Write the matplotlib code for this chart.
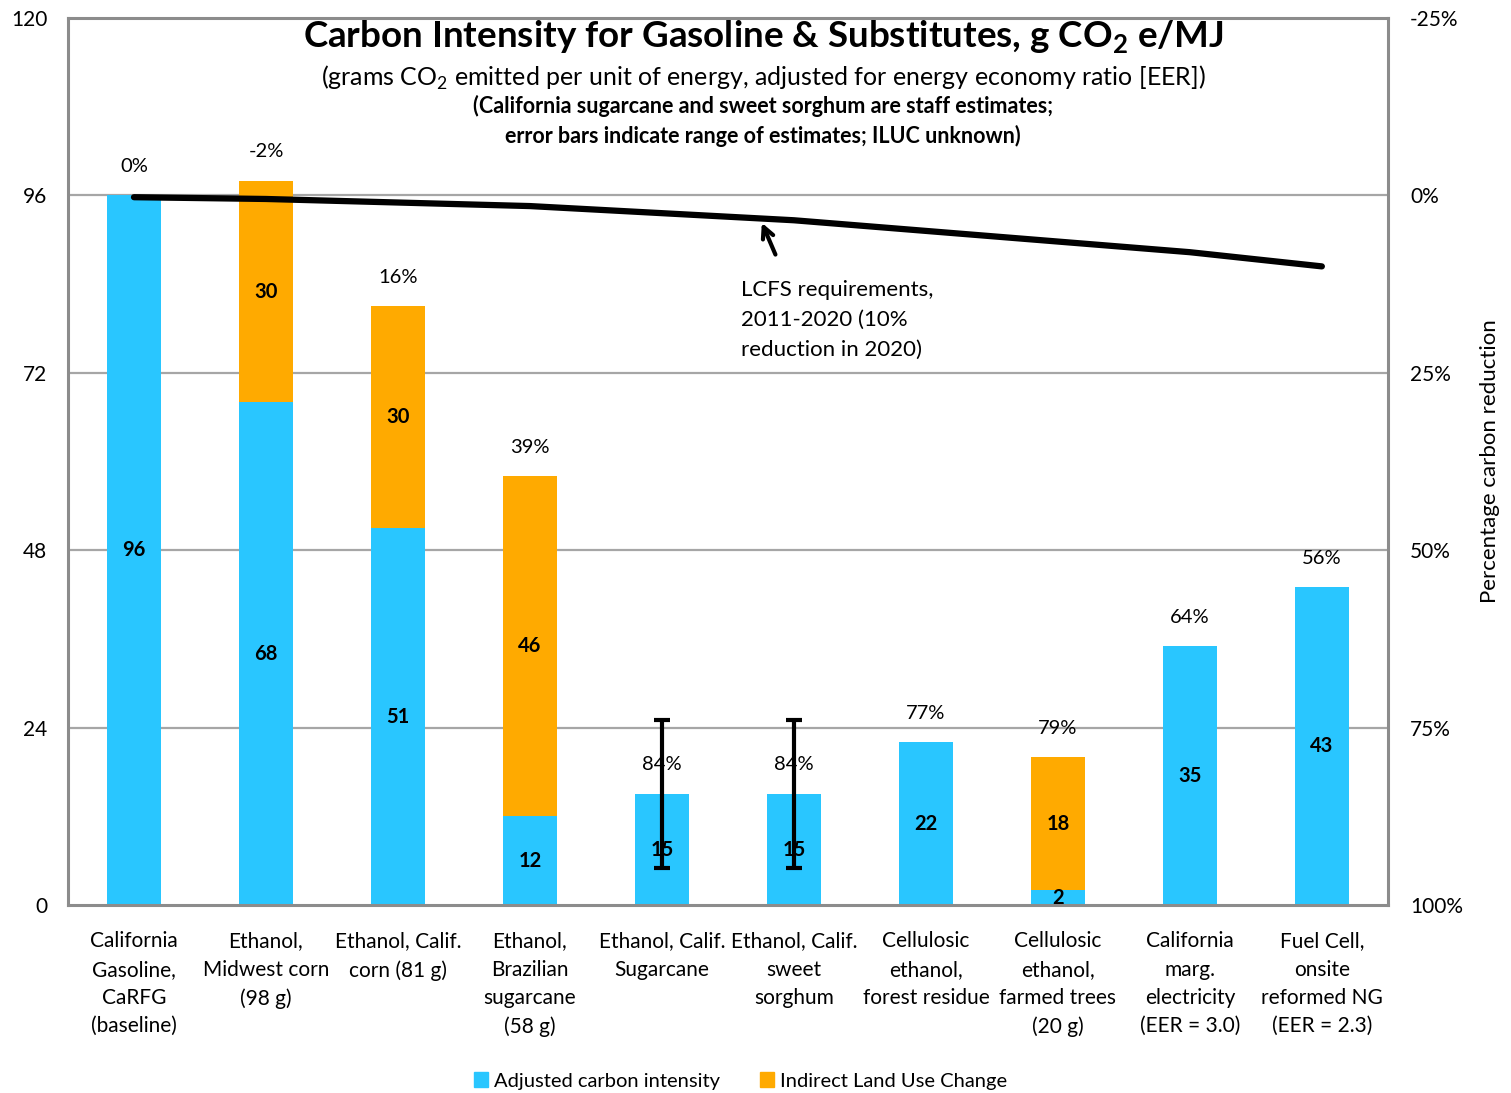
import matplotlib
matplotlib.use("Agg")
import matplotlib.pyplot as plt
from matplotlib.patches import Patch
import numpy as np

plt.rcParams['font.family'] = ['Lato', 'DejaVu Sans']
plt.rcParams['mathtext.fontset'] = 'custom'
plt.rcParams['mathtext.rm'] = 'Lato'
plt.rcParams['mathtext.bf'] = 'Lato:bold'

categories = [
    "California\nGasoline,\nCaRFG\n(baseline)",
    "Ethanol,\nMidwest corn\n(98 g)",
    "Ethanol, Calif.\ncorn (81 g)",
    "Ethanol,\nBrazilian\nsugarcane\n(58 g)",
    "Ethanol, Calif.\nSugarcane",
    "Ethanol, Calif.\nsweet\nsorghum",
    "Cellulosic\nethanol,\nforest residue",
    "Cellulosic\nethanol,\nfarmed trees\n(20 g)",
    "California\nmarg.\nelectricity\n(EER = 3.0)",
    "Fuel Cell,\nonsite\nreformed NG\n(EER = 2.3)",
]
adjusted_ci = [96, 68, 51, 12, 15, 15, 22, 2, 35, 43]
iluc = [0, 30, 30, 46, 0, 0, 0, 18, 0, 0]
pct_labels = ["0%", "-2%", "16%", "39%", "84%", "84%", "77%", "79%", "64%", "56%"]
err_idx = [4, 5]
err_low = [5, 5]
err_high = [25, 25]
# LCFS requirement, 2011-2020 (g CO2e/MJ)
lcfs_ci = [95.76, 95.52, 95.04, 94.56, 93.6, 92.64, 91.2, 89.76, 88.32, 86.4]
left_ticks = [0, 24, 48, 72, 96, 120]
right_ticklabels = ["100%", "75%", "50%", "25%", "0%", "-25%"]

BLUE = '#29C6FF'
ORANGE = '#FFAA00'
GRID = '#A6A6A6'

fig = plt.figure(figsize=(15.11, 10.93), dpi=100)
ax = fig.add_axes([0.045, 0.172, 0.8735, 0.8115])
x = np.arange(len(categories))
w = 0.41

ax.bar(x, adjusted_ci, width=w, color=BLUE, zorder=2)
ax.bar(x, iluc, width=w, bottom=adjusted_ci, color=ORANGE, zorder=2)

ax.set_xlim(-0.5, len(categories) - 0.5)
ax.set_ylim(0, 120)
ax.set_yticks(left_ticks)
ax.set_yticklabels([str(t) for t in left_ticks], fontsize=15)
ax.tick_params(axis='y', length=0, pad=15)
ax.set_xticks(x)
ax.set_xticklabels(categories, fontsize=15, linespacing=1.52)
ax.tick_params(axis='x', length=0, pad=19)
for t in left_ticks[1:-1]:
    ax.axhline(t, color=GRID, lw=1.6, zorder=1)
for s in ax.spines.values():
    s.set_color('#8C8C8C')
    s.set_linewidth(2.2)

# value labels
for i in range(len(categories)):
    if adjusted_ci[i] > 0:
        ax.text(x[i], adjusted_ci[i] / 2, str(adjusted_ci[i]), ha='center', va='center',
                fontsize=14.5, fontweight='bold', zorder=4)
    if iluc[i] > 0:
        ax.text(x[i], adjusted_ci[i] + iluc[i] / 2, str(iluc[i]), ha='center', va='center',
                fontsize=14.5, fontweight='bold', zorder=4)
    top = adjusted_ci[i] + iluc[i]
    ax.annotate(pct_labels[i], (x[i], top), xytext=(0, 21), textcoords='offset points',
                ha='center', va='center', fontsize=14.5, zorder=4)

# error bars
for k, i in enumerate(err_idx):
    mid = adjusted_ci[i]
    ax.errorbar(x[i], mid, yerr=[[mid - err_low[k]], [err_high[k] - mid]], fmt='none',
                ecolor='black', elinewidth=3, capsize=5.5, capthick=3, zorder=5)

# LCFS line
ax.plot(x, lcfs_ci, color='black', lw=4.5, solid_capstyle='round', zorder=6)
ax.text(4.6, 79.2, "LCFS requirements,\n2011-2020 (10%\nreduction in 2020)",
        ha='left', va='center', fontsize=16, linespacing=1.62)
ax.annotate("", xy=(4.757, 92.3), xytext=(4.86, 88.0),
            arrowprops=dict(arrowstyle='->', color='black', lw=3, shrinkA=0, shrinkB=0,
                            mutation_scale=20))

# right axis
ax2 = ax.twinx()
ax2.set_ylim(0, 120)
ax2.set_yticks(left_ticks)
ax2.set_yticklabels(right_ticklabels, fontsize=15)
ax2.tick_params(axis='y', length=0, pad=16)
ax2.set_ylabel("Percentage carbon reduction", fontsize=16, labelpad=12)
for s in ax2.spines.values():
    s.set_visible(False)

# titles
fig.text(0.505, 0.966, r"Carbon Intensity for Gasoline & Substitutes, g CO$_\mathbf{2}$ e/MJ",
         ha='center', va='center', fontsize=26.5, fontweight='bold')
fig.text(0.505, 0.9286, r"(grams CO$_2$ emitted per unit of energy, adjusted for energy economy ratio [EER])",
         ha='center', va='center', fontsize=18)
fig.text(0.505, 0.903, "(California sugarcane and sweet sorghum are staff estimates;",
         ha='center', va='center', fontsize=15.5, fontweight='bold')
fig.text(0.505, 0.8756, "error bars indicate range of estimates; ILUC unknown)",
         ha='center', va='center', fontsize=15.5, fontweight='bold')

handles = [Patch(color=BLUE, label='Adjusted carbon intensity'),
           Patch(color=ORANGE, label='Indirect Land Use Change')]
fig.legend(handles=handles, loc='center', bbox_to_anchor=(0.49, 0.011), ncol=2,
           frameon=False, fontsize=14.5, handlelength=0.7, handleheight=0.7,
           handletextpad=0.3, columnspacing=2.0)

fig.savefig("out.png", dpi=100)
